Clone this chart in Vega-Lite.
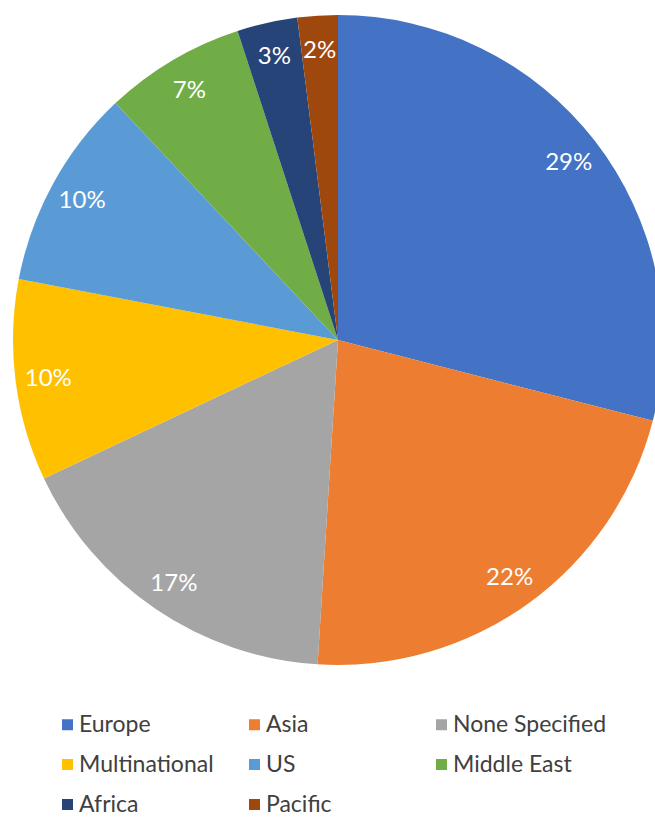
{
  "$schema": "https://vega.github.io/schema/vega-lite/v6.json",
  "width": 655,
  "height": 820,
  "autosize": "none",
  "padding": 0,
  "background": "white",
  "data": {
    "values": [
      {"region": "Europe", "value": 29, "label": "29%", "idx": 1},
      {"region": "Asia", "value": 22, "label": "22%", "idx": 2},
      {"region": "None Specified", "value": 17, "label": "17%", "idx": 3},
      {"region": "Multinational", "value": 10, "label": "10%", "idx": 4},
      {"region": "US", "value": 10, "label": "10%", "idx": 5},
      {"region": "Middle East", "value": 7, "label": "7%", "idx": 6},
      {"region": "Africa", "value": 3, "label": "3%", "idx": 7},
      {"region": "Pacific", "value": 2, "label": "2%", "idx": 8}
    ]
  },
  "encoding": {
    "theta": {"field": "value", "type": "quantitative", "stack": true},
    "order": {"field": "idx", "type": "quantitative"}
  },
  "layer": [
    {
      "mark": {"type": "arc", "outerRadius": 325, "x": 338, "y": 340, "stroke": null},
      "encoding": {
        "color": {
          "field": "region",
          "type": "nominal",
          "scale": {
            "domain": ["Europe", "Asia", "None Specified", "Multinational", "US", "Middle East", "Africa", "Pacific"],
            "range": ["#4472C4", "#ED7D31", "#A5A5A5", "#FFC000", "#5B9BD5", "#70AD47", "#264478", "#9E480E"]
          },
          "legend": {
            "title": null,
            "orient": "none",
            "legendX": 56,
            "legendY": 713,
            "direction": "horizontal",
            "columns": 3,
            "gridAlign": "all",
            "symbolType": "square",
            "symbolSize": 121,
            "symbolStrokeWidth": 0,
            "labelFont": "Lato",
            "labelFontSize": 23,
            "labelColor": "#404040",
            "labelOffset": 0,
            "labelLimit": 300,
            "columnPadding": 10,
            "rowPadding": 16
          }
        }
      }
    },
    {
      "mark": {"type": "text", "radius": 292, "x": 338, "y": 342, "fontSize": 24, "font": "Lato"},
      "encoding": {
        "text": {"field": "label", "type": "nominal"},
        "color": {"value": "white"}
      }
    }
  ]
}
